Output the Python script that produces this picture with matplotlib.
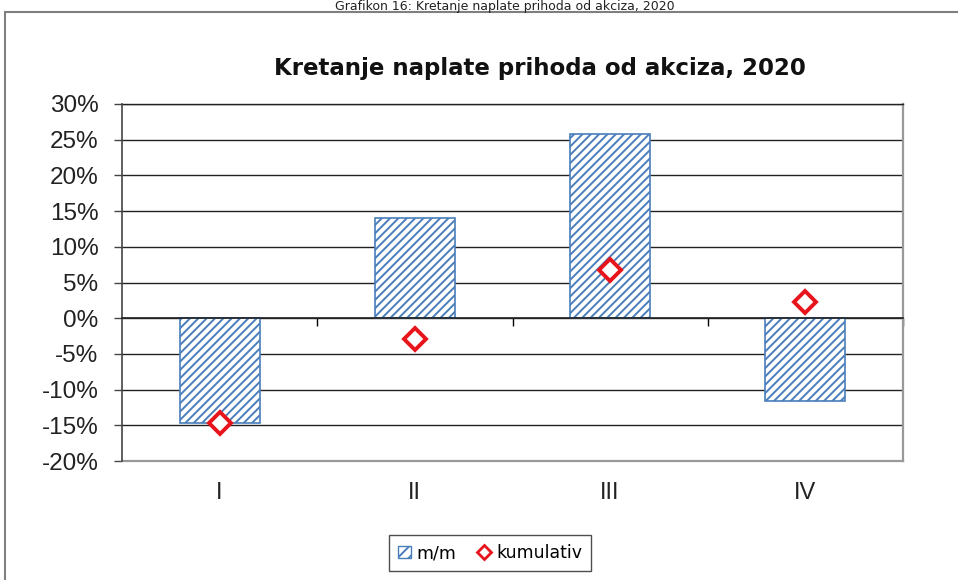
import matplotlib
matplotlib.use('Agg')
import matplotlib.pyplot as plt
from matplotlib.patches import Patch, Rectangle
from matplotlib.lines import Line2D
from matplotlib.transforms import blended_transform_factory
import numpy as np

categories = ["I", "II", "III", "IV"]
mm = [-14.7, 14.1, 25.8, -11.6]          # m/m, %
kumulativ = [-14.7, -2.9, 6.7, 2.2]       # kumulativ, %
yticks = [-20, -15, -10, -5, 0, 5, 10, 15, 20, 25, 30]

blue = "#4A7EBB"
red = "#E8141B"

plt.rcParams['hatch.linewidth'] = 1.4

fig = plt.figure(figsize=(9.58, 5.8), dpi=100)
fig.patch.set_facecolor("white")

# outer frame of the chart object
fig.add_artist(Rectangle((5 / 958, -0.05), 1.1, 1 - 12 / 580 + 0.05,
                         transform=fig.transFigure, fill=False,
                         edgecolor="#7f7f7f", linewidth=1.5))

# caption above the chart frame
fig.text(0.527, 1 - 10 / 580, "Grafikon 16: Kretanje naplate prihoda od akciza, 2020",
         ha="center", va="baseline", fontsize=9, family="DejaVu Sans", color="#222222")

ax = fig.add_axes([122 / 958, 1 - 461 / 580, 781 / 958, (461 - 104) / 580])

x = np.arange(len(categories))
ax.bar(x, mm, width=0.41, facecolor="white", edgecolor=blue, hatch="////",
       linewidth=1.2, zorder=3)
ax.plot(x, kumulativ, linestyle="none", marker="D", markersize=11,
        markerfacecolor="white", markeredgecolor=red, markeredgewidth=2.8, zorder=4)

ax.set_xlim(-0.5, len(categories) - 0.5)
ax.set_ylim(-20, 30)
ax.set_yticks(yticks)
ax.set_yticklabels([f"{v}%" for v in yticks], fontsize=17.5, family="Liberation Sans",
                   color="#222222")
ax.yaxis.grid(True, color="#222222", linewidth=1.0)
ax.set_axisbelow(True)
ax.tick_params(axis="y", length=6, width=1.0, color="#444444", pad=11)

# plot-area border: gray right/bottom, dark top and left axis
ax.spines["top"].set_color("#222222")
ax.spines["top"].set_linewidth(1.0)
ax.spines["right"].set_color("#999999")
ax.spines["right"].set_linewidth(1.6)
ax.spines["left"].set_color("#444444")
ax.spines["left"].set_linewidth(1.2)
ax.spines["left"].set_zorder(5)
ax.axhline(-20, color="#999999", linewidth=1.6, clip_on=False, zorder=5)
ax.spines["bottom"].set_position(("data", 0))
ax.spines["bottom"].set_color("#222222")
ax.spines["bottom"].set_linewidth(1.2)
ax.spines["bottom"].set_zorder(5)

ax.set_xticks(np.arange(len(categories)) + 0.5)
ax.tick_params(axis="x", length=6, width=1.0, direction="out", labelbottom=False)

trans = blended_transform_factory(ax.transData, ax.transAxes)
for xi, lab in zip(x, categories):
    ax.text(xi, -0.09, lab, transform=trans, ha="center", va="center",
            fontsize=17, family="Liberation Sans", color="#222222")

fig.text(0.564, 1 - 68 / 580, "Kretanje naplate prihoda od akciza, 2020",
         ha="center", va="center", fontsize=16.5, fontweight="bold",
         family="DejaVu Sans", color="#111111")

handles = [Patch(facecolor="white", edgecolor=blue, hatch="///", label="m/m"),
           Line2D([], [], linestyle="none", marker="D", markersize=7,
                  markerfacecolor="white", markeredgecolor=red, markeredgewidth=2,
                  label="kumulativ")]
leg = fig.legend(handles=handles, loc="center", bbox_to_anchor=(490 / 958, 1 - 553 / 580),
                 ncol=2, frameon=True, fancybox=False,
                 handlelength=0.8, handletextpad=0.3, columnspacing=1.2,
                 borderpad=0.5, prop={"family": "DejaVu Sans", "size": 12.5})
leg.get_frame().set_edgecolor("#222222")
leg.get_frame().set_linewidth(1.0)

fig.savefig("out.png", dpi=100)
